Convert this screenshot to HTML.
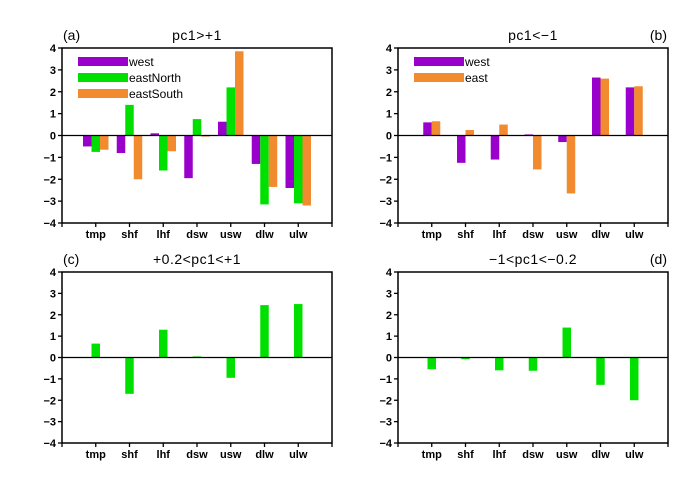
<!DOCTYPE html>
<html><head><meta charset="utf-8"><style>body{margin:0;background:#fff}svg{display:block}</style></head>
<body>
<svg id="s" width="700" height="493" xmlns="http://www.w3.org/2000/svg" font-family="Liberation Sans, sans-serif"></svg>
<script>
const P='#9a00cc',G='#00e000',O='#f28a30';
const panels=[
{x:62,top:48,bot:223,lab:'(a)',labR:false,title:'pc1&gt;+1',series:[[P,[-0.5,-0.8,0.1,-1.95,0.63,-1.3,-2.4]],[G,[-0.75,1.4,-1.6,0.75,2.2,-3.15,-3.1]],[O,[-0.65,-2.0,-0.72,-0.05,3.85,-2.35,-3.2]]],leg:[[P,'west'],[G,'eastNorth'],[O,'eastSouth']]},
{x:398,top:48,bot:223,lab:'(b)',labR:true,title:'pc1&lt;\u22121',series:[[P,[0.6,-1.25,-1.1,0.05,-0.3,2.65,2.2]],[O,[0.65,0.25,0.5,-1.55,-2.65,2.6,2.25]]],leg:[[P,'west'],[O,'east']]},
{x:62,top:272,bot:443,lab:'(c)',labR:false,title:'+0.2&lt;pc1&lt;+1',series:[[G,[0.65,-1.7,1.3,0.05,-0.95,2.45,2.5]]],leg:[]},
{x:398,top:272,bot:443,lab:'(d)',labR:true,title:'\u22121&lt;pc1&lt;\u22120.2',series:[[G,[-0.55,-0.08,-0.6,-0.62,1.4,-1.28,-2.0]]],leg:[]}];
const cats=['tmp','shf','lhf','dsw','usw','dlw','ulw'];
let h='';
for(const p of panels){
 const W=270,dx=W/8,u=(p.bot-p.top)/8,z=p.top+4*u;
 const n=p.series.length,bw=8.5,start=-n*bw/2;
 p.series.forEach((s,k)=>{s[1].forEach((v,i)=>{const cx=p.x+dx*(i+1)+start+k*bw;const y=v>0?z-v*u:z;h+=`<rect x="${cx}" y="${y}" width="${bw}" height="${Math.abs(v)*u}" fill="${s[0]}"/>`;});});
 h+=`<rect x="${p.x}" y="${p.top}" width="${W}" height="${p.bot-p.top}" fill="none" stroke="#000" stroke-width="1.5"/>`;
 h+=`<line x1="${p.x}" x2="${p.x+W}" y1="${z}" y2="${z}" stroke="#000" stroke-width="1.2"/>`;
 for(let t=-4;t<=4;t++){const y=z-t*u;h+=`<line x1="${p.x-4}" x2="${p.x}" y1="${y}" y2="${y}" stroke="#000" stroke-width="1.3"/><text x="${p.x-6}" y="${y+4}" font-size="11" font-weight="bold" text-anchor="end">${t<0?'\u2212'+(-t):t}</text>`;}
 for(let i=0;i<=8;i++){const x=p.x+dx*i;h+=`<line x1="${x}" x2="${x}" y1="${p.bot}" y2="${p.bot+4}" stroke="#000" stroke-width="1.3"/>`;}
 cats.forEach((c,i)=>{h+=`<text x="${p.x+dx*(i+1)}" y="${p.bot+15}" font-size="11" font-weight="bold" text-anchor="middle">${c}</text>`;});
 h+=`<text x="${p.x+W/2}" y="${p.top-8}" font-size="14" letter-spacing="0.5" text-anchor="middle">${p.title}</text>`;
 h+=`<text x="${p.labR?p.x+W-1:p.x+1}" y="${p.top-8}" font-size="14" text-anchor="${p.labR?'end':'start'}">${p.lab}</text>`;
 p.leg.forEach((l,j)=>{const y=p.top+9+j*16;h+=`<rect x="${p.x+16}" y="${y}" width="50" height="9" fill="${l[0]}"/><text x="${p.x+67}" y="${y+9}" font-size="12">${l[1]}</text>`;});
}
document.getElementById('s').innerHTML=h;
</script>
</body></html>
